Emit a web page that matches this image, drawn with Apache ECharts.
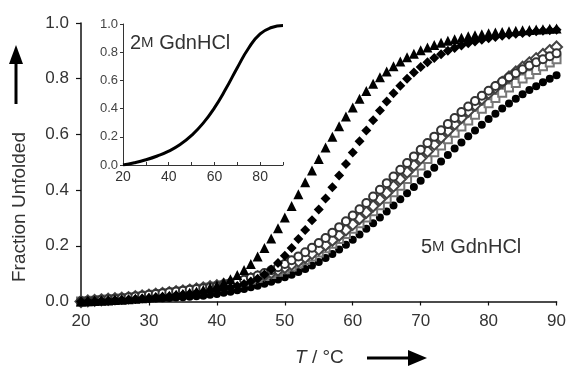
<!DOCTYPE html>
<html>
<head>
    <meta charset="utf-8" />
    <title>Fraction Unfolded</title>
    <script src="https://cdn.jsdelivr.net/npm/echarts@6/dist/echarts.min.js"></script>
</head>
<body style="margin:0;background:#fff;">
    <div id="main" style="width: 569px;height:370px;"></div>
    <script>
        // temperatures (degC), one reading per degree
        var temps = [20, 21, 22, 23, 24, 25, 26, 27, 28, 29, 30, 31, 32, 33, 34, 35, 36, 37, 38, 39,
            40, 41, 42, 43, 44, 45, 46, 47, 48, 49, 50, 51, 52, 53, 54, 55, 56, 57, 58, 59,
            60, 61, 62, 63, 64, 65, 66, 67, 68, 69, 70, 71, 72, 73, 74, 75, 76, 77, 78, 79,
            80, 81, 82, 83, 84, 85, 86, 87, 88, 89, 90];

        // 5M GdnHCl curves
        var triFilled = [0.000, 0.001, 0.002, 0.003, 0.004, 0.005, 0.006, 0.008, 0.010, 0.012,
            0.014, 0.016, 0.018, 0.021, 0.024, 0.027, 0.031, 0.036, 0.042, 0.050,
            0.058, 0.068, 0.080, 0.095, 0.113, 0.135, 0.162, 0.192, 0.226, 0.263,
            0.302, 0.343, 0.385, 0.428, 0.470, 0.512, 0.553, 0.592, 0.629, 0.664,
            0.697, 0.728, 0.756, 0.782, 0.805, 0.826, 0.845, 0.862, 0.877, 0.890,
            0.902, 0.912, 0.921, 0.929, 0.936, 0.942, 0.947, 0.952, 0.956, 0.960,
            0.963, 0.966, 0.968, 0.970, 0.972, 0.974, 0.975, 0.977, 0.978, 0.979, 0.980];
        var diaFilled = [0.000, 0.001, 0.002, 0.003, 0.004, 0.005, 0.006, 0.007, 0.009, 0.011,
            0.013, 0.015, 0.017, 0.019, 0.022, 0.025, 0.028, 0.031, 0.034, 0.037,
            0.040, 0.045, 0.050, 0.056, 0.063, 0.072, 0.082, 0.097, 0.115, 0.138,
            0.164, 0.192, 0.224, 0.257, 0.292, 0.330, 0.370, 0.410, 0.452, 0.494,
            0.535, 0.575, 0.614, 0.651, 0.686, 0.718, 0.748, 0.775, 0.800, 0.822,
            0.842, 0.859, 0.874, 0.888, 0.900, 0.910, 0.919, 0.927, 0.934, 0.940,
            0.945, 0.950, 0.954, 0.958, 0.961, 0.964, 0.967, 0.970, 0.972, 0.974, 0.976];
        var circleOpen = [0.000, 0.002, 0.004, 0.006, 0.008, 0.010, 0.012, 0.015, 0.018, 0.021,
            0.024, 0.027, 0.030, 0.033, 0.036, 0.039, 0.042, 0.045, 0.048, 0.051,
            0.055, 0.060, 0.065, 0.071, 0.078, 0.085, 0.093, 0.102, 0.112, 0.123,
            0.135, 0.148, 0.162, 0.177, 0.193, 0.210, 0.228, 0.247, 0.267, 0.288,
            0.309, 0.331, 0.354, 0.377, 0.401, 0.425, 0.449, 0.473, 0.497, 0.521,
            0.545, 0.569, 0.592, 0.615, 0.637, 0.659, 0.680, 0.700, 0.720, 0.739,
            0.757, 0.774, 0.790, 0.805, 0.820, 0.834, 0.847, 0.859, 0.870, 0.881, 0.891];
        var diaOpen = [0.000, 0.002, 0.004, 0.006, 0.008, 0.010, 0.012, 0.014, 0.017, 0.020,
            0.023, 0.026, 0.029, 0.032, 0.035, 0.038, 0.041, 0.045, 0.049, 0.053,
            0.057, 0.061, 0.066, 0.071, 0.076, 0.082, 0.088, 0.095, 0.103, 0.112,
            0.122, 0.133, 0.145, 0.158, 0.172, 0.187, 0.203, 0.220, 0.238, 0.257,
            0.277, 0.298, 0.320, 0.343, 0.366, 0.390, 0.414, 0.439, 0.464, 0.489,
            0.514, 0.539, 0.564, 0.589, 0.613, 0.637, 0.660, 0.683, 0.705, 0.727,
            0.748, 0.768, 0.787, 0.806, 0.824, 0.841, 0.857, 0.872, 0.887, 0.901, 0.914];
        var squareOpen = [0.000, 0.001, 0.003, 0.005, 0.007, 0.009, 0.011, 0.013, 0.015, 0.018,
            0.021, 0.024, 0.027, 0.030, 0.033, 0.036, 0.039, 0.042, 0.046, 0.050,
            0.054, 0.058, 0.063, 0.068, 0.073, 0.079, 0.085, 0.092, 0.099, 0.107,
            0.116, 0.126, 0.137, 0.149, 0.162, 0.176, 0.191, 0.207, 0.224, 0.242,
            0.261, 0.281, 0.302, 0.324, 0.346, 0.369, 0.392, 0.416, 0.440, 0.464,
            0.488, 0.512, 0.536, 0.560, 0.583, 0.606, 0.628, 0.650, 0.671, 0.692,
            0.712, 0.731, 0.750, 0.768, 0.785, 0.801, 0.816, 0.831, 0.845, 0.858, 0.870];
        var circleFilled = [0.000, 0.001, 0.002, 0.003, 0.004, 0.005, 0.006, 0.007, 0.008, 0.009,
            0.010, 0.011, 0.012, 0.013, 0.014, 0.015, 0.017, 0.019, 0.021, 0.024,
            0.027, 0.031, 0.035, 0.040, 0.045, 0.051, 0.057, 0.064, 0.071, 0.079,
            0.087, 0.096, 0.106, 0.117, 0.129, 0.142, 0.156, 0.171, 0.187, 0.204,
            0.222, 0.241, 0.261, 0.281, 0.302, 0.323, 0.345, 0.367, 0.389, 0.411,
            0.434, 0.457, 0.480, 0.503, 0.526, 0.549, 0.571, 0.593, 0.614, 0.635,
            0.655, 0.674, 0.693, 0.711, 0.728, 0.744, 0.759, 0.773, 0.787, 0.800, 0.812];

        // 2M GdnHCl inset curve
        var insetTemps = [20, 25, 30, 35, 40, 45, 50, 55, 60, 65, 70, 75, 80, 85, 90];
        var insetValues = [0.000, 0.016, 0.037, 0.064, 0.098, 0.145, 0.210, 0.295, 0.405, 0.540,
            0.690, 0.830, 0.930, 0.975, 0.990];

        function pairs(xs, ys) {
            var out = [];
            for (var i = 0; i < xs.length; i++) out.push([xs[i], ys[i]]);
            return out;
        }

        var font = '"Liberation Sans", Arial, sans-serif';
        var txt = '#333';

        var myChart = echarts.init(document.getElementById('main'));

        var axisLine = { show: true, lineStyle: { color: '#111', width: 1.5 } };

        function marks(symbol, size, color, data, hollow) {
            return {
                type: 'scatter', symbol: symbol, symbolSize: size,
                itemStyle: hollow ? { color: color, borderWidth: 1.2, opacity: 1 } : { color: color, opacity: 1 },
                emphasis: { disabled: true },
                data: data
            };
        }

        myChart.setOption({
            backgroundColor: '#fff',
            animation: false,
            grid: [
                { left: 81, right: 11, top: 23, bottom: 68.5 },
                { left: 123, top: 24, width: 160, height: 141 }
            ],
            xAxis: [{
                gridIndex: 0, type: 'value', min: 20, max: 90, interval: 10,
                axisLine: axisLine,
                axisTick: { show: true, length: 4, lineStyle: { color: '#111', width: 1.2 } },
                axisLabel: { margin: 11, fontSize: 17, color: txt, fontFamily: font },
                splitLine: { show: false }
            }, {
                gridIndex: 1, type: 'value', min: 20, max: 90, interval: 10,
                axisLine: { show: true, lineStyle: { color: '#333', width: 1 } },
                axisTick: { show: true, inside: true, length: 3, lineStyle: { color: '#333' } },
                axisLabel: {
                    margin: 5, fontSize: 14, color: txt, fontFamily: font,
                    formatter: function (v) { return v % 20 === 0 ? String(v) : ''; }
                },
                splitLine: { show: false }
            }],
            yAxis: [{
                gridIndex: 0, type: 'value', min: 0, max: 1, interval: 0.2,
                axisLine: axisLine,
                axisTick: { show: true, length: 5, lineStyle: { color: '#111', width: 1.2 } },
                axisLabel: {
                    margin: 12, fontSize: 17, color: txt, fontFamily: font,
                    formatter: function (v) { return v.toFixed(1); }
                },
                splitLine: { show: false }
            }, {
                gridIndex: 1, type: 'value', min: 0, max: 1, interval: 0.2,
                axisLine: { show: true, lineStyle: { color: '#333', width: 1 } },
                axisTick: { show: true, length: 3, lineStyle: { color: '#333' } },
                axisLabel: {
                    margin: 5, fontSize: 13, color: '#444', fontFamily: font,
                    formatter: function (v) { return v.toFixed(1); }
                },
                splitLine: { show: false }
            }],
            series: [
                marks('circle', 8, '#000', pairs(temps, circleFilled)),
                marks('emptyRect', 8, '#777', pairs(temps, squareOpen), true),
                marks('emptyDiamond', 11, '#444', pairs(temps, diaOpen), true),
                marks('emptyCircle', 8, '#333', pairs(temps, circleOpen), true),
                marks('diamond', 10, '#000', pairs(temps, diaFilled)),
                marks('triangle', 10, '#000', pairs(temps, triFilled)),
                {
                    type: 'line', xAxisIndex: 1, yAxisIndex: 1,
                    smooth: 0.5, symbol: 'none',
                    lineStyle: { color: '#000', width: 3 },
                    data: pairs(insetTemps, insetValues)
                }
            ],
            graphic: [{
                type: 'text', left: 130, top: 33,
                style: {
                    text: '{n|2}{s|M}{n| GdnHCl}', fill: txt,
                    rich: {
                        n: { fontSize: 20, fontFamily: font, fill: txt },
                        s: { fontSize: 15, fontFamily: font, fill: txt }
                    }
                }
            }, {
                type: 'text', left: 421, top: 237,
                style: {
                    text: '{n|5}{s|M}{n| GdnHCl}', fill: txt,
                    rich: {
                        n: { fontSize: 20, fontFamily: font, fill: txt },
                        s: { fontSize: 15, fontFamily: font, fill: txt }
                    }
                }
            }, {
                type: 'text', x: 20, y: 207, rotation: Math.PI / 2,
                style: {
                    text: 'Fraction Unfolded', fontSize: 19, fontFamily: font, fill: txt,
                    align: 'center', verticalAlign: 'middle'
                }
            }, {
                type: 'text', x: 295, y: 358,
                style: {
                    text: '{i|T} / °C', verticalAlign: 'middle', fontSize: 19, fontFamily: font, fill: txt,
                    rich: {
                        i: { fontSize: 19, fontStyle: 'italic', fontFamily: font, fill: txt }
                    }
                }
            }, {
                type: 'line', shape: { x1: 16, y1: 104, x2: 16, y2: 60 },
                style: { stroke: '#000', lineWidth: 3 }
            }, {
                type: 'polygon', shape: { points: [[9, 64], [23, 64], [16, 45]] },
                style: { fill: '#000' }
            }, {
                type: 'line', shape: { x1: 367, y1: 358, x2: 412, y2: 358 },
                style: { stroke: '#000', lineWidth: 3 }
            }, {
                type: 'polygon', shape: { points: [[408, 350], [408, 366], [427, 358]] },
                style: { fill: '#000' }
            }]
        });
    </script>
</body>
</html>
